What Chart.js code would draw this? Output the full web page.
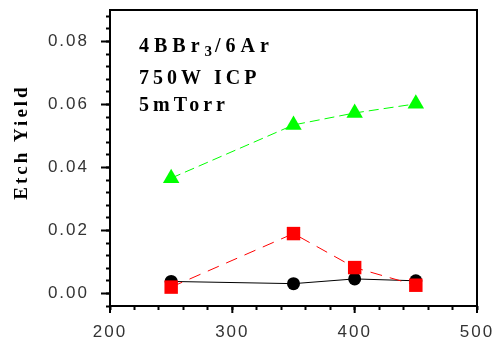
<!DOCTYPE html>
<html>
<head>
<meta charset="utf-8">
<script src="https://cdn.jsdelivr.net/npm/chart.js@4.4.0/dist/chart.umd.min.js"></script>
<style>
  html, body { margin: 0; padding: 0; background: #fff; }
  #wrap { width: 494px; height: 345px; }
</style>
</head>
<body>
<div id="wrap"><canvas id="myChart" width="494" height="345"></canvas></div>
<script>
// ICP power (W)
const power = [250, 350, 400, 450];

// etch yield values
const yieldRed = [0.0020, 0.0190, 0.0082, 0.0026];
const yieldBlack = [0.0038, 0.0031, 0.0046, 0.0040];
const yieldGreen = [0.0366, 0.0535, 0.0573, 0.0602];

const xTicks = [200, 300, 400, 500];
const yTicks = [0.00, 0.02, 0.04, 0.06, 0.08];

const yTitle = "Etch Yield";
const noteLines = ["4BBr|3|/6Ar", "750W ICP", "5mTorr"];

const toPoints = (ys) => power.map((x, i) => ({ x: x, y: ys[i] }));

// minor tick positions between min and max
const steps = (from, to, step) => {
  const out = [];
  for (let k = 0; from + k * step <= to + 1e-9; k++) out.push({ value: +(from + k * step).toFixed(6) });
  return out;
};

const frame = {
  id: "frame",
  beforeDraw(chart) {
    chart.ctx.letterSpacing = "2px";
  },
  afterDraw(chart) {
    const ctx = chart.ctx;
    const a = chart.chartArea;
    ctx.save();
    ctx.letterSpacing = "0px";
    ctx.strokeStyle = "#000";
    ctx.lineWidth = 2;
    ctx.strokeRect(a.left, a.top, a.right - a.left, a.bottom - a.top);

    // longer marks for the labelled ticks
    ctx.beginPath();
    yTicks.forEach((v) => {
      const y = chart.scales.y.getPixelForValue(v);
      ctx.moveTo(a.left, y);
      ctx.lineTo(a.left - 9, y);
    });
    xTicks.forEach((v) => {
      const x = chart.scales.x.getPixelForValue(v);
      ctx.moveTo(x, a.bottom);
      ctx.lineTo(x, a.bottom + 7);
    });
    ctx.stroke();

    // y axis title
    ctx.fillStyle = "#000";
    ctx.font = "bold 19px 'Liberation Serif'";
    ctx.letterSpacing = "3px";
    ctx.textAlign = "center";
    ctx.textBaseline = "alphabetic";
    ctx.translate(27, 142);
    ctx.rotate(-Math.PI / 2);
    ctx.fillText(yTitle, 0, 0);
    ctx.restore();

    // conditions note
    ctx.save();
    ctx.fillStyle = "#000";
    ctx.textAlign = "left";
    ctx.textBaseline = "alphabetic";
    const base = [52, 83.5, 110.5];
    const spacing = ["5px", "4px", "4px"];
    noteLines.forEach((line, i) => {
      let x = 139;
      const parts = line.split("|");
      parts.forEach((p, j) => {
        const sub = j % 2 === 1;
        ctx.font = sub ? "bold 15px 'Liberation Serif'" : "bold 20px 'Liberation Serif'";
        ctx.letterSpacing = sub ? "3px" : spacing[i];
        ctx.fillText(p, x, base[i] + (sub ? 4 : 0));
        x += ctx.measureText(p).width;
      });
    });
    ctx.restore();
    ctx.letterSpacing = "0px";
  }
};

const near = (v, list) => list.some((t) => Math.abs(v - t) < 1e-6);

new Chart(document.getElementById("myChart"), {
  type: "line",
  data: {
    datasets: [
      {
        label: "red",
        data: toPoints(yieldRed),
        borderColor: "#ff0000",
        backgroundColor: "#ff0000",
        borderWidth: 1,
        borderDash: [12, 8],
        pointStyle: "rect",
        pointRadius: 9.5,
        pointBorderWidth: 0,
      },
      {
        label: "black",
        data: toPoints(yieldBlack),
        borderColor: "#000000",
        backgroundColor: "#000000",
        borderWidth: 1,
        pointStyle: "circle",
        pointRadius: 6.5,
        pointBorderWidth: 0,
      },
      {
        label: "green",
        data: toPoints(yieldGreen),
        borderColor: "#00ff00",
        backgroundColor: "#00ff00",
        borderWidth: 1,
        borderDash: [10, 5],
        pointStyle: "triangle",
        pointRadius: 9.5,
        pointBorderWidth: 0,
      },
    ],
  },
  options: {
    responsive: false,
    animation: false,
    devicePixelRatio: 1,
    layout: { padding: { top: 10, right: 17, left: 0, bottom: 0 } },
    plugins: {
      legend: { display: false },
      tooltip: { enabled: false },
    },
    scales: {
      x: {
        type: "linear",
        min: 200,
        max: 500,
        afterBuildTicks: (scale) => { scale.ticks = steps(200, 500, 20); },
        afterFit: (scale) => {
          scale.height = 39;
          scale.paddingLeft = 0;
          scale.paddingRight = 0;
        },
        border: { display: false },
        grid: {
          drawOnChartArea: false,
          drawTicks: true,
          tickLength: 4,
          tickWidth: 2,
          tickColor: "#000",
        },
        ticks: {
          maxRotation: 0,
          autoSkip: false,
          padding: 12,
          color: "#333",
          font: { family: "'Liberation Sans'", size: 17 },
          callback: (v) => (near(v, xTicks) ? String(v) : ""),
        },
      },
      y: {
        type: "linear",
        min: -0.004,
        max: 0.09,
        afterBuildTicks: (scale) => { scale.ticks = steps(-0.004, 0.088, 0.004); },
        afterFit: (scale) => {
          scale.width = 110;
          scale.paddingTop = 0;
          scale.paddingBottom = 0;
        },
        border: { display: false },
        grid: {
          drawOnChartArea: false,
          drawTicks: true,
          tickLength: 4,
          tickWidth: 2,
          tickColor: "#000",
        },
        ticks: {
          autoSkip: false,
          padding: 17,
          color: "#333",
          font: { family: "'Liberation Sans'", size: 17 },
          callback: (v) => (near(v, yTicks) ? v.toFixed(2) : ""),
        },
      },
    },
  },
  plugins: [frame],
});
</script>
</body>
</html>
